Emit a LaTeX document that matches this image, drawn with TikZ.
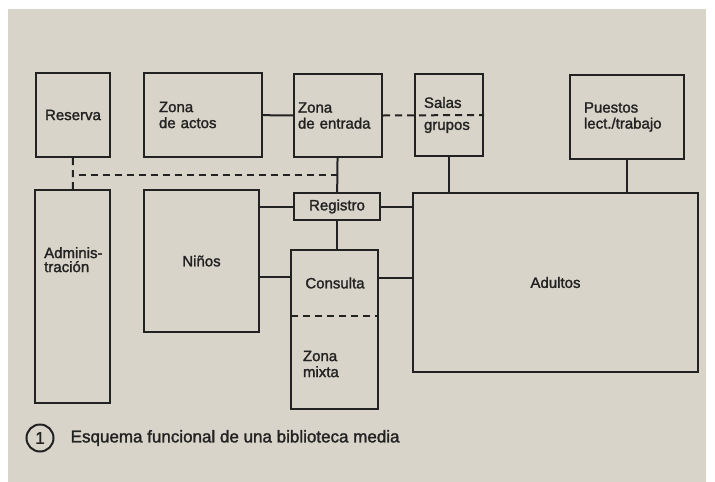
\documentclass[tikz,border=0pt]{standalone}
\usepackage{fontspec}
\setmainfont{Liberation Sans}
\newfontfamily\planfont{Liberation Sans}[FakeBold=1.6]
\usetikzlibrary{calc}
\usetikzlibrary{positioning}

\definecolor{paper}{HTML}{D8D4C9}
\definecolor{ink}{HTML}{222222}

\tikzset{
  room/.style={draw=ink, line width=2.3pt, inner sep=0pt, text=ink,
    font=\planfont\fontsize{15}{16}\selectfont},
  link/.style={draw=ink, line width=2pt},
  dashlink/.style={link, dash pattern=on 7pt off 5pt},
}

\begin{document}
\begin{tikzpicture}[x=1pt, y=-1pt]
            \useasboundingbox (0,0) rectangle (715,482);
            \fill[white] (0,0) rectangle (715,482);
            \fill[paper] (8,9) rectangle (706,482);
            % top row
            \node[room, minimum width=74, minimum height=84] (reserva) at (73,115) {Reserva};
            \node[room, minimum width=118, minimum height=84, inner xsep=15, text width=88, align=left] (actos) at (203,115) {Zona\\de actos};
            \node[room, minimum width=88, minimum height=83, inner xsep=4, text width=80, align=left] (entrada) at (338,115.5) {Zona\\de entrada};
            \node[room, minimum width=68, minimum height=82, inner xsep=9, text width=50, align=left] (salas) at (449,115) {Salas\\[6pt]grupos};
            \node[room, minimum width=114, minimum height=84, inner xsep=14, text width=86, align=left] (puestos) at (627,117) {Puestos\\lect./trabajo};
            % lower part
            \node[room, minimum width=75, minimum height=213] (admin) at (72.5,296.5) {};
            \node[anchor=north west, inner sep=0pt, text=ink, font=\planfont\fontsize{15}{14}\selectfont, align=left] (admintext) at (44,247) {Adminis-\\tración};
            \node[room, minimum width=115, minimum height=142] (ninos) at (201.5,261) {Niños};
            \node[room, minimum width=86, minimum height=27] (registro) at (337,206.5) {Registro};
            \node[room, draw=none, minimum width=86, minimum height=64] (consulta) at (335,283) {Consulta};
            \node[room, draw=none, minimum width=86, minimum height=94, inner xsep=11, text width=64, align=left] (mixta) at (335,364) {Zona\\mixta};
            \draw[room] (consulta.north west) rectangle (292+86,409);
            \draw[dashlink] (consulta.south west) to (consulta.south east);
            \node[room, minimum width=285, minimum height=179] (adultos) at (555.5,282.5) {Adultos};
            % caption
            \node[circle, draw=ink, line width=2pt, minimum size=27, inner sep=0pt, text=ink, font=\planfont\fontsize{17}{18}\selectfont] (num) at (40,438) {1};
            \node[right=16pt of num, inner sep=0pt, text=ink, font=\planfont\fontsize{17}{18}\selectfont] (caption) {Esquema funcional de una biblioteca media};
            % connections
            \coordinate (junction) at ($(entrada.south)!0.5!(registro.north)$);
            \draw[link] (actos) to (entrada);
            \draw[dashlink] (entrada.east) to (salas.east);
            \draw[dashlink] (reserva) to (admin);
            \draw[dashlink] (junction) to (junction -| reserva.south);
            \draw[link] (entrada) to (registro);
            \draw[link] (registro.south) to (registro.south |- consulta.north);
            \draw[link] (registro.west) to (registro.west -| ninos.east);
            \draw[link] (registro.east) to (registro.east -| adultos.west);
            \draw[link] ($(consulta.west)+(0,-6)$) to ($(consulta.west -| ninos.east)+(0,-6)$);
            \draw[link] ($(consulta.east)+(0,-5)$) to ($(consulta.east -| adultos.west)+(0,-5)$);
            \draw[link] (salas.south) to (salas.south |- adultos.north);
            \draw[link] (puestos.south) to (puestos.south |- adultos.north);
        \end{tikzpicture}
\end{document}
